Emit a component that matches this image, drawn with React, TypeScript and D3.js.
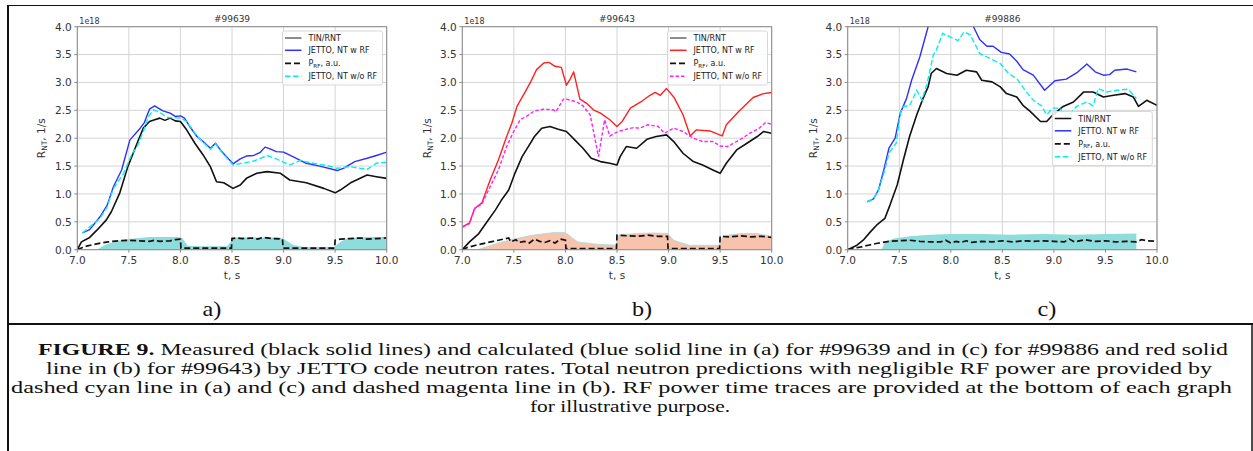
import React from "react";
import * as d3 from "d3";

type P = [number, number];

// ---------- data ----------
const xTicks = [7.0, 7.5, 8.0, 8.5, 9.0, 9.5, 10.0];
const yTicks = [0, 0.5, 1.0, 1.5, 2.0, 2.5, 3.0, 3.5, 4.0];
const titles = ["#99639", "#99643", "#99886"];
const panelLabels = ["a)", "b)", "c)"];
const legendLabelsA = ["TIN/RNT", "JETTO, NT w RF", "P_RF, a.u.", "JETTO, NT w/o RF"];
const legendLabelsB = ["TIN/RNT", "JETTO, NT w RF", "P_RF, a.u.", "JETTO, NT w/o RF"];
const legendLabelsC = ["TIN/RNT", "JETTO. NT w RF", "P_RF, a.u.", "JETTO, NT w/o RF"];

// panel a  (#99639)
const aMeasured: P[] = [[7.0,0],[7.04,0.14],[7.12,0.22],[7.19,0.35],[7.28,0.53],[7.33,0.68],[7.41,1.01],[7.49,1.49],[7.58,1.91],[7.64,2.18],[7.7,2.3],[7.75,2.33],[7.8,2.36],[7.85,2.32],[7.9,2.36],[7.95,2.31],[8.0,2.3],[8.06,2.15],[8.14,1.91],[8.22,1.7],[8.29,1.49],[8.35,1.22],[8.42,1.2],[8.51,1.1],[8.58,1.16],[8.64,1.28],[8.74,1.37],[8.84,1.4],[8.97,1.37],[9.06,1.25],[9.22,1.2],[9.39,1.1],[9.5,1.02],[9.55,1.07],[9.65,1.2],[9.81,1.34],[9.9,1.31],[10.0,1.28]];
const aWithRF: P[] = [[7.05,0.3],[7.12,0.36],[7.22,0.59],[7.29,0.8],[7.35,1.13],[7.43,1.43],[7.51,1.97],[7.61,2.18],[7.65,2.28],[7.7,2.52],[7.75,2.58],[7.83,2.49],[7.9,2.45],[7.95,2.39],[8.0,2.4],[8.04,2.36],[8.09,2.21],[8.16,2.03],[8.22,1.94],[8.29,1.82],[8.34,1.91],[8.4,1.76],[8.51,1.54],[8.58,1.63],[8.64,1.68],[8.71,1.69],[8.77,1.74],[8.82,1.84],[8.87,1.81],[8.93,1.76],[9.0,1.75],[9.09,1.67],[9.22,1.55],[9.35,1.5],[9.52,1.42],[9.58,1.46],[9.69,1.58],[9.81,1.64],[9.9,1.69],[10.0,1.75]];
const aWithoutRF: P[] = [[7.05,0.3],[7.22,0.56],[7.29,0.77],[7.35,1.1],[7.45,1.37],[7.53,1.72],[7.58,1.85],[7.64,2.12],[7.69,2.39],[7.74,2.51],[7.8,2.46],[7.88,2.37],[8.0,2.36],[8.06,2.3],[8.16,2.04],[8.29,1.8],[8.34,1.9],[8.4,1.75],[8.51,1.52],[8.71,1.59],[8.84,1.69],[8.93,1.63],[9.06,1.52],[9.16,1.6],[9.29,1.55],[9.42,1.51],[9.52,1.46],[9.64,1.49],[9.81,1.44],[9.9,1.55],[10.0,1.57]];
const aPRF: P[] = [[7.0,0],[7.05,0.04],[7.1,0.07],[7.2,0.11],[7.3,0.14],[7.4,0.16],[7.5,0.17],[7.6,0.16],[7.7,0.15],[7.75,0.17],[7.8,0.15],[7.9,0.16],[7.95,0.18],[8.0,0.19],[8.005,0.03],[8.2,0.03],[8.495,0.03],[8.5,0.2],[8.55,0.21],[8.6,0.2],[8.7,0.21],[8.75,0.19],[8.8,0.22],[8.9,0.2],[8.99,0.19],[8.995,0.03],[9.2,0.03],[9.495,0.03],[9.5,0.17],[9.55,0.19],[9.65,0.2],[9.75,0.21],[9.8,0.19],[9.9,0.2],[10.0,0.21]];
const aRFFill: P[] = [[7.19,0],[7.25,0.07],[7.32,0.12],[7.4,0.16],[7.5,0.19],[7.6,0.21],[7.7,0.23],[7.85,0.23],[7.98,0.23],[8.02,0.2],[8.07,0.07],[8.2,0.06],[8.45,0.06],[8.5,0.17],[8.53,0.22],[8.7,0.22],[8.97,0.22],[9.02,0.17],[9.1,0.08],[9.2,0.05],[9.49,0.05],[9.55,0.14],[9.62,0.21],[9.8,0.23],[10.0,0.23]];

// panel b  (#99643)
const bMeasured: P[] = [[7.0,0],[7.07,0.14],[7.16,0.29],[7.24,0.5],[7.32,0.71],[7.38,0.89],[7.45,1.07],[7.51,1.37],[7.58,1.67],[7.64,1.85],[7.7,2.03],[7.77,2.18],[7.85,2.21],[7.93,2.16],[8.01,2.12],[8.09,1.97],[8.17,1.82],[8.25,1.64],[8.34,1.58],[8.43,1.55],[8.5,1.52],[8.53,1.67],[8.59,1.85],[8.69,1.82],[8.79,1.98],[8.88,2.03],[8.98,2.06],[9.05,1.94],[9.14,1.73],[9.24,1.58],[9.33,1.52],[9.43,1.43],[9.5,1.37],[9.56,1.55],[9.66,1.79],[9.76,1.91],[9.86,2.03],[9.92,2.12],[10.0,2.09]];
const bWithRF: P[] = [[7.0,0.41],[7.07,0.48],[7.12,0.74],[7.19,0.84],[7.27,1.25],[7.35,1.61],[7.43,2.03],[7.48,2.27],[7.53,2.57],[7.61,2.83],[7.66,3.0],[7.72,3.23],[7.79,3.35],[7.84,3.36],[7.9,3.29],[7.96,3.27],[8.01,2.95],[8.04,3.04],[8.08,3.19],[8.14,2.7],[8.21,2.62],[8.27,2.51],[8.34,2.45],[8.43,2.33],[8.5,2.21],[8.55,2.3],[8.63,2.54],[8.73,2.65],[8.82,2.77],[8.87,2.82],[8.92,2.77],[8.98,2.89],[9.05,2.74],[9.14,2.42],[9.21,2.04],[9.27,2.15],[9.4,2.13],[9.52,2.04],[9.56,2.24],[9.68,2.48],[9.82,2.73],[9.92,2.8],[10.0,2.82]];
const bWithoutRF: P[] = [[7.0,0.4],[7.07,0.47],[7.12,0.74],[7.19,0.82],[7.27,1.13],[7.35,1.43],[7.43,1.85],[7.49,2.09],[7.56,2.33],[7.62,2.39],[7.7,2.49],[7.79,2.52],[7.88,2.51],[7.91,2.48],[7.98,2.7],[8.01,2.7],[8.11,2.65],[8.17,2.58],[8.24,2.42],[8.32,1.67],[8.38,2.33],[8.43,2.04],[8.51,2.12],[8.59,2.16],[8.66,2.19],[8.72,2.18],[8.8,2.24],[8.9,2.21],[8.96,2.09],[9.05,2.18],[9.14,2.12],[9.24,2.0],[9.33,1.94],[9.43,1.94],[9.5,1.86],[9.57,1.85],[9.69,1.97],[9.79,2.09],[9.88,2.18],[9.94,2.28],[10.0,2.25]];
const bPRF: P[] = [[7.0,0],[7.05,0.04],[7.13,0.08],[7.2,0.11],[7.3,0.15],[7.4,0.19],[7.45,0.21],[7.47,0.14],[7.52,0.18],[7.55,0.13],[7.6,0.15],[7.65,0.12],[7.7,0.19],[7.75,0.15],[7.8,0.13],[7.85,0.16],[7.9,0.12],[7.95,0.19],[8.0,0.17],[8.005,0.02],[8.495,0.02],[8.5,0.26],[8.6,0.25],[8.7,0.24],[8.8,0.26],[8.9,0.24],[8.99,0.24],[8.995,0.02],[9.495,0.02],[9.5,0.24],[9.6,0.23],[9.7,0.25],[9.8,0.23],[9.9,0.24],[10.0,0.22]];
const bRFFill: P[] = [[7.15,0],[7.25,0.06],[7.35,0.12],[7.5,0.19],[7.65,0.25],[7.8,0.29],[7.9,0.31],[8.0,0.31],[8.06,0.22],[8.12,0.14],[8.3,0.1],[8.49,0.08],[8.52,0.27],[8.7,0.29],[8.85,0.3],[8.99,0.29],[9.05,0.17],[9.2,0.08],[9.49,0.08],[9.53,0.25],[9.7,0.29],[9.85,0.29],[10.0,0.24]];

// panel c  (#99886)
const cMeasured: P[] = [[7.0,0],[7.09,0.08],[7.15,0.17],[7.22,0.32],[7.28,0.44],[7.36,0.56],[7.41,0.8],[7.48,1.16],[7.54,1.61],[7.6,2.03],[7.67,2.42],[7.73,2.71],[7.78,2.92],[7.81,3.16],[7.86,3.25],[7.96,3.16],[8.06,3.13],[8.15,3.22],[8.25,3.19],[8.3,3.04],[8.4,3.01],[8.48,2.92],[8.54,2.8],[8.64,2.74],[8.7,2.59],[8.77,2.48],[8.87,2.3],[8.93,2.3],[8.99,2.42],[9.09,2.57],[9.19,2.65],[9.29,2.83],[9.38,2.83],[9.48,2.74],[9.58,2.77],[9.69,2.8],[9.77,2.74],[9.82,2.57],[9.9,2.68],[10.0,2.59]];
const cWithRF: P[] = [[7.19,0.86],[7.25,0.91],[7.3,1.08],[7.35,1.43],[7.4,1.82],[7.46,2.0],[7.51,2.45],[7.57,2.71],[7.62,3.04],[7.7,3.46],[7.78,4.0],[7.9,4.3],[8.0,4.35],[8.12,4.3],[8.22,4.0],[8.28,3.77],[8.35,3.65],[8.41,3.65],[8.49,3.54],[8.57,3.51],[8.64,3.38],[8.7,3.23],[8.8,3.13],[8.91,2.86],[9.01,3.03],[9.12,3.06],[9.22,3.17],[9.32,3.33],[9.4,3.19],[9.48,3.13],[9.54,3.14],[9.59,3.22],[9.71,3.24],[9.8,3.19]];
const cWithoutRF: P[] = [[7.19,0.86],[7.25,0.91],[7.3,1.08],[7.35,1.37],[7.4,1.73],[7.47,1.91],[7.51,2.45],[7.54,2.57],[7.6,2.58],[7.67,2.86],[7.72,2.68],[7.77,2.98],[7.83,3.49],[7.86,3.58],[7.92,3.88],[7.99,3.82],[8.07,3.75],[8.13,3.91],[8.19,3.85],[8.28,3.52],[8.38,3.43],[8.48,3.34],[8.56,3.16],[8.64,3.07],[8.72,2.86],[8.8,2.68],[8.88,2.58],[8.93,2.42],[8.99,2.54],[9.06,2.54],[9.12,2.36],[9.22,2.57],[9.32,2.65],[9.38,2.58],[9.43,2.89],[9.51,2.83],[9.61,2.86],[9.72,2.88],[9.8,2.71]];
const cPRF: P[] = [[7.0,0],[7.07,0.03],[7.13,0.05],[7.2,0.08],[7.3,0.12],[7.4,0.15],[7.5,0.16],[7.6,0.17],[7.7,0.15],[7.8,0.14],[7.9,0.14],[7.95,0.17],[8.0,0.12],[8.05,0.15],[8.1,0.13],[8.15,0.16],[8.2,0.13],[8.3,0.15],[8.4,0.14],[8.5,0.16],[8.6,0.14],[8.7,0.16],[8.8,0.15],[8.9,0.16],[9.0,0.15],[9.1,0.14],[9.15,0.19],[9.2,0.14],[9.3,0.18],[9.4,0.15],[9.5,0.16],[9.6,0.14],[9.7,0.15],[9.8,0.14],[9.85,0.18],[9.9,0.16],[10.0,0.15]];
const cRFFill: P[] = [[7.33,0],[7.36,0.14],[7.45,0.2],[7.6,0.24],[7.8,0.27],[8.0,0.28],[8.3,0.28],[8.6,0.27],[8.9,0.28],[9.2,0.27],[9.5,0.28],[9.8,0.29],[9.8,0]];

const captionLines = [
  "Measured (black solid lines) and calculated (blue solid line in (a) for #99639 and in (c) for #99886 and red solid",
  "line in (b) for #99643) by JETTO code neutron rates. Total neutron predictions with negligible RF power are provided by",
  "dashed cyan line in (a) and (c) and dashed magenta line in (b). RF power time traces are provided at the bottom of each graph",
  "for illustrative purpose.",
];

// ---------- drawing ----------
const SANS = "'DejaVu Sans', sans-serif";
const SERIF = "'Liberation Serif', 'Times New Roman', Times, serif";
const TOP = 26.7;
const BOTTOM = 249.7;

type PanelDef = {
  id: string;
  left: number;
  right: number;
  title: string;
  yLabelX: number;
  measured: P[];
  withRF: P[];
  withoutRF: P[];
  prf: P[];
  fill: P[];
  rfColor: string;
  noRfColor: string;
  noRfDash: string;
  fillColor: string;
  fillEdge: string;
  legendX: number;
  legendY: number;
  legendLabels: string[];
  measuredHandle: string;
};

function LegendLabel({ text, x, y }: { text: string; x: number; y: number }) {
  if (text.startsWith("P_RF")) {
    return (
      <text x={x} y={y} fontSize={8} fontFamily={SANS} fill="#222">
        P<tspan fontSize={5.6} dy={1.5}>RF</tspan>
        <tspan dy={-1.5}>{", a.u."}</tspan>
      </text>
    );
  }
  return (
    <text x={x} y={y} fontSize={8} fontFamily={SANS} fill="#222">
      {text}
    </text>
  );
}

function Panel({ d }: { d: PanelDef }) {
  const x = d3.scaleLinear().domain([7, 10]).range([d.left, d.right]);
  const y = d3.scaleLinear().domain([0, 4]).range([BOTTOM, TOP]);
  const line = d3
    .line<P>()
    .x((p) => x(p[0]))
    .y((p) => y(p[1]));
  const area = d3
    .area<P>()
    .x((p) => x(p[0]))
    .y0(y(0))
    .y1((p) => y(p[1]));
  const clipId = "clip-" + d.id;
  const cx = (d.left + d.right) / 2;
  const cy = (TOP + BOTTOM) / 2;
  const rows = [7, 19.3, 32.3, 45.3];
  const handles = [
    { stroke: d.measuredHandle, dash: "", w: 1.5 },
    { stroke: d.rfColor, dash: "", w: 1.5 },
    { stroke: "#111", dash: "6,3", w: 1.7 },
    { stroke: d.noRfColor, dash: d.noRfDash, w: 1.5 },
  ];
  return (
    <g>
      <defs>
        <clipPath id={clipId}>
          <rect x={d.left} y={TOP} width={d.right - d.left} height={BOTTOM - TOP} />
        </clipPath>
      </defs>
      <rect x={d.left} y={TOP} width={d.right - d.left} height={BOTTOM - TOP} fill="#fff" />
      {xTicks.map((t) => (
        <line key={"gx" + t} x1={x(t)} x2={x(t)} y1={TOP} y2={BOTTOM} stroke="#d4d4d4" strokeWidth={1} />
      ))}
      {yTicks.map((t) => (
        <line key={"gy" + t} x1={d.left} x2={d.right} y1={y(t)} y2={y(t)} stroke="#d4d4d4" strokeWidth={1} />
      ))}
      <g clipPath={`url(#${clipId})`}>
        <path d={area(d.fill) || ""} fill={d.fillColor} stroke={d.fillEdge} strokeWidth={0.8} />
        <path d={line(d.measured) || ""} fill="none" stroke="#111" strokeWidth={1.6} strokeLinejoin="round" />
        <path d={line(d.withRF) || ""} fill="none" stroke={d.rfColor} strokeWidth={1.4} strokeLinejoin="round" />
        <path d={line(d.prf) || ""} fill="none" stroke="#111" strokeWidth={1.7} strokeDasharray="6,3" />
        <path d={line(d.withoutRF) || ""} fill="none" stroke={d.noRfColor} strokeWidth={1.4} strokeDasharray={d.noRfDash} />
      </g>
      <rect x={d.left} y={TOP} width={d.right - d.left} height={BOTTOM - TOP} fill="none" stroke="#8a8a8a" strokeWidth={1} />
      {xTicks.map((t) => (
        <g key={"tx" + t}>
          <line x1={x(t)} x2={x(t)} y1={BOTTOM} y2={BOTTOM + 3} stroke="#8a8a8a" />
          <text x={x(t)} y={264} textAnchor="middle" fontSize={10.5} fontFamily={SANS} fill="#333">
            {t.toFixed(1)}
          </text>
        </g>
      ))}
      {yTicks.map((t) => (
        <g key={"ty" + t}>
          <line x1={d.left - 3} x2={d.left} y1={y(t)} y2={y(t)} stroke="#8a8a8a" />
          <text x={d.left - 5.5} y={y(t) + 3.8} textAnchor="end" fontSize={10.5} fontFamily={SANS} fill="#333">
            {t.toFixed(1)}
          </text>
        </g>
      ))}
      <text x={d.left + 2} y={24} fontSize={8} fontFamily={SANS} fill="#333">1e18</text>
      <text x={cx} y={21.5} textAnchor="middle" fontSize={9} fontFamily={SANS} fill="#333">{d.title}</text>
      <text x={cx} y={279} textAnchor="middle" fontSize={10.5} fontFamily={SANS} fill="#333">t, s</text>
      <text transform={`translate(${d.yLabelX},${cy}) rotate(-90)`} textAnchor="middle" fontSize={10.5} fontFamily={SANS} fill="#333">
        R<tspan fontSize={7.5} dy={2}>NT</tspan>
        <tspan dy={-2}>{", 1/s"}</tspan>
      </text>
      <g>
        <rect x={d.legendX} y={d.legendY} width={100} height={54} rx={2} fill="#fff" fillOpacity={0.85} stroke="#d8d8d8" strokeWidth={1} />
        {d.legendLabels.map((lab, i) => (
          <g key={lab + i}>
            <line
              x1={d.legendX + 2.5}
              x2={d.legendX + 19}
              y1={d.legendY + rows[i]}
              y2={d.legendY + rows[i]}
              stroke={handles[i].stroke}
              strokeWidth={handles[i].w}
              strokeDasharray={handles[i].dash}
            />
            <LegendLabel text={lab} x={d.legendX + 26} y={d.legendY + rows[i] + 3} />
          </g>
        ))}
      </g>
    </g>
  );
}

const panels: PanelDef[] = [
  {
    id: "a", left: 77.3, right: 386.7, title: titles[0], yLabelX: 45,
    measured: aMeasured, withRF: aWithRF, withoutRF: aWithoutRF, prf: aPRF, fill: aRFFill,
    rfColor: "#2f2fff", noRfColor: "#00f0f0", noRfDash: "5.5,2.5",
    fillColor: "#8fdcdc", fillEdge: "none", legendX: 282.5, legendY: 31,
    legendLabels: legendLabelsA, measuredHandle: "#666",
  },
  {
    id: "b", left: 462.3, right: 771.7, title: titles[1], yLabelX: 431,
    measured: bMeasured, withRF: bWithRF, withoutRF: bWithoutRF, prf: bPRF, fill: bRFFill,
    rfColor: "#ff2020", noRfColor: "#ff20ff", noRfDash: "3.5,2",
    fillColor: "#f8c3ad", fillEdge: "#a6dcd8", legendX: 667.5, legendY: 31,
    legendLabels: legendLabelsB, measuredHandle: "#666",
  },
  {
    id: "c", left: 847.7, right: 1157, title: titles[2], yLabelX: 816.5,
    measured: cMeasured, withRF: cWithRF, withoutRF: cWithoutRF, prf: cPRF, fill: cRFFill,
    rfColor: "#2f2fff", noRfColor: "#00f0f0", noRfDash: "5.5,2.5",
    fillColor: "#8fdcdc", fillEdge: "none", legendX: 1052.3, legendY: 111.5,
    legendLabels: legendLabelsC, measuredHandle: "#111",
  },
];

const labelX = [212, 642, 1047];
const captionX = [38, 46, 11, 530];
const captionLen = [1190, 1166, 1221, 200];
const captionY = [355, 374, 393, 412];

export default function App() {
  return (
    <svg
      width={1253}
      height={451}
      viewBox="0 0 1253 451"
      style={{ position: "absolute", left: 0, top: 0, background: "#fff" }}
    >
      <rect x={0} y={0} width={1253} height={451} fill="#fff" />
      {panels.map((p) => (
        <Panel key={p.id} d={p} />
      ))}
      {panelLabels.map((l, i) => (
        <text
          key={l}
          transform={`translate(${labelX[i]},316) scale(1.1,1)`}
          textAnchor="middle"
          fontSize={22}
          fontFamily={SERIF}
          fill="#111"
        >
          {l}
        </text>
      ))}
      {/* figure frame */}
      <line x1={8} x2={1253} y1={5.5} y2={5.5} stroke="#111" strokeWidth={1.2} />
      <line x1={8} x2={8} y1={5} y2={451} stroke="#111" strokeWidth={2} />
      <line x1={8} x2={1253} y1={324} y2={324} stroke="#111" strokeWidth={2} />
      <line x1={1252} x2={1252} y1={324} y2={451} stroke="#111" strokeWidth={1.5} />
      {captionLines.map((c, i) => (
        <text
          key={i}
          x={captionX[i]}
          y={captionY[i]}
          fontSize={16}
          fontFamily={SERIF}
          fill="#111"
          textLength={captionLen[i]}
          lengthAdjust="spacingAndGlyphs"
        >
          {i === 0 ? <tspan fontWeight="bold">{"FIGURE 9. "}</tspan> : null}
          {c}
        </text>
      ))}
    </svg>
  );
}
